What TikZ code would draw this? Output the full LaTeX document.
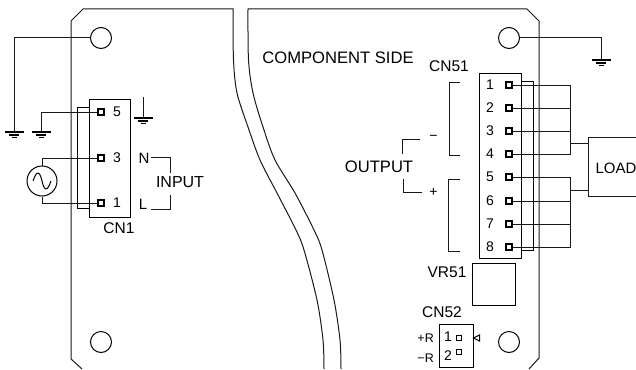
\documentclass[tikz,border=0pt]{standalone}
\usepackage{fontspec}
\setmainfont{Liberation Sans}
\newcommand{\fs}[1]{\fontsize{#1}{#1}\selectfont}
\tikzset{
  wire/.style={line width=1pt,black!90},
  edge/.style={line width=1pt,black!90},
  pin/.style={draw,line width=1.2pt,rectangle,minimum size=6pt,inner sep=0pt},
  hole/.style={draw,line width=1pt,circle,minimum size=21pt,inner sep=0pt},
  lbl/.style={inner sep=0pt,font=\fs{15.5}},
  num/.style={inner sep=0pt,font=\fs{14}},
  box/.style={draw,line width=0.9pt,rectangle,inner sep=0pt},
  gnd/.pic={\draw[line width=1.1pt] (-9.5,0)--(9.5,0) (-5,3)--(5,3) (-2.5,5.5)--(2.5,5.5);}
}
\begin{document}
\begin{tikzpicture}[x=1pt,y=-1pt,line join=miter]
\useasboundingbox (0,0) rectangle (636,369);
\clip (0,0) rectangle (636,369);
% left board
\draw[edge] plot[smooth,tension=0.5] coordinates {(324,369) (323,340) (317,300) (304,250) (296,230) (277,193) (260,160) (248,127) (237,93) (233.5,60) (233,9)} -- (83,9) -- (71,21) -- (71,359) -- (82,369);
% right board
\draw[edge] plot[smooth,tension=0.5] coordinates {(341,369) (340,340) (334,300) (322,250) (314,230) (295,193) (275,160) (263,127) (253,93) (248.5,60) (248,9)} -- (527,9) -- (539,21) -- (539,358) -- (529,369);
% holes
\node[hole] (h1) at (101,38) {};
\node[hole] (h2) at (509,38) {};
\node[hole] (h3) at (101,342) {};
\node[hole] (h4) at (509,342) {};
\node[lbl,font=\fs{16.6}] (cs) at (338,58) {COMPONENT SIDE};
% CN1
\node[box,minimum width=41pt,minimum height=118pt] (cn1) at (109.5,158) {};
\node[box,minimum width=12pt,minimum height=101pt] (cn1s) at (83,157.5) {};
\node[pin] (p5) at (101,112) {};
\node[pin] (p3) at (101,158) {};
\node[pin] (p1) at (101,203) {};
\node[num] (n5) at (117,112) {5};
\node[num] (n3) at (117,158) {3};
\node[num] (n1) at (117,203) {1};
\node[lbl] (cn1l) at (119,228) {CN1};
\coordinate (g1) at (14,132);
\coordinate (g2) at (41,132);
\coordinate (g3t) at (143,97);
\coordinate (g3) at (143,118);
\pic at (g1) {gnd};
\pic at (g2) {gnd};
\pic at (g3) {gnd};
\draw[wire] (h1.west) -| (g1);
\draw[wire] (p5.west) -| (g2);
\draw[wire] (g3t) -- (g3);
\node[draw,line width=1pt,circle,minimum size=30pt,inner sep=0pt] (ac) at (42,181) {};
\draw[line width=1pt] (33,181) .. controls (37,169) and (40,172) .. (42,181) .. controls (44,190) and (47,193) .. (51,181);
\draw[wire] (ac.north) |- (p3.west);
\draw[wire] (ac.south) |- (p1.west);
\node[num,font=\fs{15}] (nN) at (144,158) {N};
\node[num,font=\fs{15}] (nL) at (143,204) {L};
\node[lbl,font=\fs{16}] (inp) at (180,182) {INPUT};
\draw[wire] (151,157.5) -| (170,173);
\draw[wire] (151,209) -| (170,195);
% CN51
\node[lbl] (cn51l) at (449,66) {CN51};
\node[box,minimum width=42pt,minimum height=185pt] (cn51) at (500,165.5) {};
\node[box,minimum width=12pt,minimum height=169pt] (cn51s) at (527,165.5) {};
\foreach \i/\y in {1/85,2/108,3/131,4/154,5/177,6/201,7/224,8/247}{
  \node[pin] (q\i) at (509,\y) {};
  \node[num] (m\i) at (490,\y) {\i};
}
\coordinate (b1) at (570,85);
\coordinate (b4) at (570,154);
\coordinate (b5) at (570,177);
\coordinate (b8) at (570,247);
\draw[wire] (q1.east) -- (b1) -- (b4) -- (q4.east);
\draw[wire] (q5.east) -- (b5) -- (b8) -- (q8.east);
\foreach \i in {2,3}{\draw[wire] (q\i.east) -- (570,{\i*23+62});}
\draw[wire] (q6.east) -- (570,201);
\draw[wire] (q7.east) -- (570,224);
% load
\coordinate (lt) at (636,137);
\coordinate (lb) at (636,196);
\draw[wire] (lt) -- (588,137) -- (588,196) -- (lb);
\draw[wire] (570,143) -- (588,143);
\draw[wire] (570,190) -- (588,190);
\node[lbl,font=\fs{15}] (load) at (616,168) {LOAD};
% brackets
\draw[wire] (460,82) -- (449,82) -- (449,155) -- (460,155);
\draw[wire] (460,179) -- (448,179) -- (448,251) -- (460,251);
\node[num] (minus) at (433.5,138) {\fs{14}−};
\node[num] (plus) at (433.5,192) {+};
\node[lbl,font=\fs{16.6}] (out) at (379,167) {OUTPUT};
\draw[wire] (420,139) -- (402,139) -- (402,154);
\draw[wire] (403,179) -- (403,192) -- (422,192);
% top-right ground
\coordinate (g4) at (601,60);
\pic at (g4) {gnd};
\draw[wire] (h2.east) -| (g4);
% VR51
\node[box,minimum width=43pt,minimum height=42pt] (vr) at (493.5,284) {};
\node[lbl] (vrl) at (447,272) {VR51};
% CN52
\node[lbl] (cn52l) at (442,312) {CN52};
\node[box,minimum width=34pt,minimum height=43pt] (cn52) at (456,345.5) {};
\node[pin,line width=0.9pt,minimum size=5pt] (r1) at (459,338) {};
\node[pin,line width=0.9pt,minimum size=5pt] (r2) at (459,352) {};
\node[num] (k1) at (448,337) {1};
\node[num] (k2) at (448,356) {2};
\draw[line width=1pt] (473.5,338) -- (479.5,335) -- (479.5,341) -- cycle;
\node[num,anchor=east,font=\fs{12.5}] (pr) at (434,338) {+R};
\node[num,anchor=east,font=\fs{12.5}] (mr) at (434,358) {−R};
\end{tikzpicture}
\end{document}
